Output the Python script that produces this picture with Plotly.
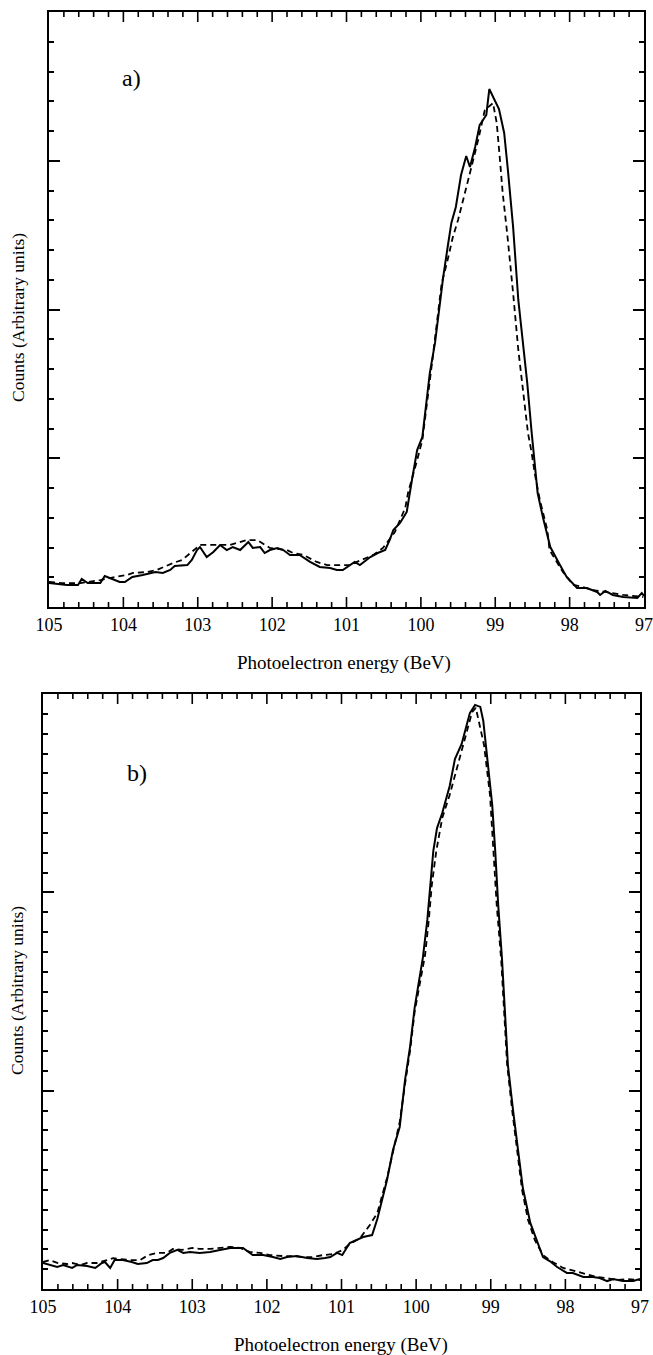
import plotly.graph_objects as go

W, H = 653, 1355

# ---------------- panel a) ----------------
a_solid_E = [105.00, 104.76, 104.61, 104.56, 104.48, 104.31, 104.25, 104.18, 104.05, 103.98,
             103.88, 103.74, 103.57, 103.47, 103.37, 103.31, 103.14, 103.08, 103.01, 102.97,
             102.88, 102.79, 102.70, 102.61, 102.53, 102.43, 102.32, 102.26, 102.16, 102.10,
             102.03, 101.93, 101.85, 101.76, 101.63, 101.49, 101.36, 101.22, 101.13, 101.05,
             100.89, 100.82, 100.68, 100.58, 100.48, 100.42, 100.37, 100.28, 100.19, 100.12,
             100.05, 99.98, 99.94, 99.88, 99.81, 99.77, 99.70, 99.64, 99.59, 99.53,
             99.46, 99.39, 99.34, 99.27, 99.21, 99.12, 99.08, 98.95, 98.88, 98.83,
             98.76, 98.69, 98.64, 98.57, 98.51, 98.47, 98.43, 98.36, 98.26, 98.13,
             98.04, 97.90, 97.77, 97.63, 97.59, 97.52, 97.42, 97.28, 97.09, 97.03, 97.00]
a_solid_I = [0.161, 0.148, 0.148, 0.188, 0.161, 0.161, 0.208, 0.195, 0.168, 0.168,
             0.202, 0.215, 0.235, 0.229, 0.249, 0.276, 0.282, 0.316, 0.383, 0.403,
             0.336, 0.370, 0.417, 0.383, 0.403, 0.383, 0.437, 0.397, 0.403, 0.363,
             0.383, 0.397, 0.383, 0.350, 0.350, 0.303, 0.269, 0.262, 0.249, 0.249,
             0.303, 0.282, 0.336, 0.363, 0.383, 0.450, 0.518, 0.565, 0.639, 0.854,
             1.055, 1.143, 1.324, 1.573, 1.775, 1.950, 2.218, 2.420, 2.582, 2.689,
             2.904, 3.032, 2.958, 3.092, 3.240, 3.308, 3.482, 3.348, 3.187, 2.938,
             2.555, 2.064, 1.842, 1.506, 1.170, 0.988, 0.766, 0.605, 0.403, 0.282,
             0.202, 0.128, 0.128, 0.101, 0.081, 0.108, 0.081, 0.067, 0.061, 0.094, 0.074]

a_dash_E = [105.00, 104.83, 104.58, 104.31, 104.11, 103.95, 103.87, 103.68, 103.55, 103.33,
            103.21, 103.08, 102.97, 102.74, 102.57, 102.34, 102.20, 102.03, 101.80, 101.72,
            101.58, 101.40, 101.26, 101.09, 100.95, 100.86, 100.64, 100.51, 100.35, 100.21,
            100.17, 100.05, 99.98, 99.85, 99.77, 99.72, 99.65, 99.61, 99.57, 99.50,
            99.43, 99.34, 99.23, 99.14, 99.03, 98.98, 98.94, 98.90, 98.84, 98.80,
            98.76, 98.69, 98.64, 98.60, 98.56, 98.51, 98.47, 98.40, 98.30, 98.27,
            98.09, 97.95, 97.82, 97.69, 97.55, 97.42, 97.28, 97.15, 97.01]
a_dash_I = [0.168, 0.161, 0.161, 0.181, 0.202, 0.215, 0.229, 0.235, 0.249, 0.296,
            0.316, 0.370, 0.417, 0.417, 0.417, 0.450, 0.450, 0.397, 0.383, 0.363,
            0.350, 0.303, 0.282, 0.282, 0.282, 0.303, 0.350, 0.397, 0.504, 0.666,
            0.773, 0.988, 1.123, 1.640, 1.997, 2.178, 2.313, 2.400, 2.487, 2.602,
            2.736, 2.918, 3.139, 3.341, 3.388, 3.254, 3.025, 2.783, 2.514, 2.333,
            2.111, 1.728, 1.506, 1.371, 1.170, 1.035, 0.901, 0.719, 0.518, 0.383,
            0.235, 0.148, 0.134, 0.114, 0.101, 0.094, 0.081, 0.074, 0.067]

# ---------------- panel b) ----------------
b_solid_E = [105.00, 104.81, 104.73, 104.61, 104.54, 104.41, 104.30, 104.21, 104.17, 104.10,
             104.04, 103.93, 103.81, 103.73, 103.61, 103.53, 103.46, 103.39, 103.30, 103.20,
             103.12, 103.03, 102.90, 102.76, 102.63, 102.49, 102.40, 102.32, 102.19, 102.05,
             101.92, 101.82, 101.73, 101.60, 101.46, 101.33, 101.22, 101.15, 101.06, 100.99,
             100.89, 100.79, 100.71, 100.59, 100.52, 100.39, 100.31, 100.22, 100.15, 100.08,
             100.02, 99.97, 99.91, 99.85, 99.81, 99.77, 99.72, 99.65, 99.55, 99.48,
             99.39, 99.28, 99.21, 99.14, 99.10, 99.05, 98.98, 98.94, 98.90, 98.85,
             98.81, 98.77, 98.70, 98.63, 98.57, 98.47, 98.38, 98.30, 98.21, 98.11,
             97.98, 97.90, 97.76, 97.63, 97.54, 97.44, 97.36, 97.23, 97.09, 97.00]
b_solid_I = [0.131, 0.111, 0.121, 0.106, 0.121, 0.116, 0.106, 0.131, 0.136, 0.106,
             0.146, 0.146, 0.136, 0.126, 0.131, 0.146, 0.146, 0.156, 0.182, 0.197,
             0.182, 0.187, 0.182, 0.187, 0.197, 0.207, 0.207, 0.207, 0.171, 0.171,
             0.161, 0.151, 0.161, 0.166, 0.156, 0.151, 0.156, 0.161, 0.182, 0.171,
             0.232, 0.247, 0.262, 0.272, 0.353, 0.550, 0.701, 0.817, 1.049, 1.225,
             1.417, 1.533, 1.669, 1.861, 2.037, 2.208, 2.324, 2.400, 2.536, 2.672,
             2.748, 2.904, 2.945, 2.935, 2.864, 2.672, 2.440, 2.208, 1.936, 1.669,
             1.376, 1.129, 0.897, 0.681, 0.509, 0.333, 0.237, 0.161, 0.141, 0.111,
             0.081, 0.081, 0.061, 0.061, 0.055, 0.040, 0.050, 0.040, 0.040, 0.050]

b_dash_E = [105.00, 104.91, 104.80, 104.68, 104.61, 104.50, 104.41, 104.28, 104.14, 104.06,
            103.97, 103.83, 103.70, 103.59, 103.47, 103.34, 103.26, 103.14, 103.00, 102.90,
            102.76, 102.63, 102.49, 102.36, 102.23, 102.09, 101.96, 101.78, 101.65, 101.52,
            101.38, 101.25, 101.11, 100.98, 100.89, 100.75, 100.62, 100.52, 100.39, 100.31,
            100.22, 100.15, 100.08, 100.02, 99.95, 99.88, 99.83, 99.79, 99.73, 99.65,
            99.55, 99.44, 99.35, 99.25, 99.20, 99.16, 99.09, 99.01, 98.96, 98.92,
            98.86, 98.82, 98.78, 98.71, 98.65, 98.58, 98.50, 98.41, 98.30, 98.17,
            98.03, 97.87, 97.74, 97.58, 97.44, 97.31, 97.17, 97.00]
b_dash_I = [0.136, 0.146, 0.131, 0.126, 0.131, 0.121, 0.131, 0.131, 0.146, 0.156,
            0.151, 0.146, 0.146, 0.171, 0.182, 0.182, 0.202, 0.197, 0.207, 0.202,
            0.202, 0.207, 0.212, 0.207, 0.187, 0.182, 0.171, 0.166, 0.166, 0.161,
            0.161, 0.171, 0.176, 0.197, 0.227, 0.257, 0.323, 0.383, 0.560, 0.691,
            0.842, 1.029, 1.205, 1.397, 1.533, 1.684, 1.861, 2.037, 2.208, 2.375,
            2.491, 2.642, 2.768, 2.909, 2.930, 2.859, 2.743, 2.491, 2.213, 1.936,
            1.659, 1.382, 1.129, 0.892, 0.701, 0.499, 0.348, 0.247, 0.171, 0.136,
            0.106, 0.091, 0.076, 0.061, 0.055, 0.045, 0.050, 0.045]

x_tick_vals = [105, 104, 103, 102, 101, 100, 99, 98, 97]
x_minor_step = 0.2
x_title = "Photoelectron energy (BeV)"
y_title = "Counts (Arbitrary units)"
panel_labels = ["a)", "b)"]

FONT = "Liberation Serif, Times New Roman, serif"
XRANGE = [x_tick_vals[0], x_tick_vals[-1]]

fig = go.Figure()
solid = dict(color="black", width=2)
dashed = dict(color="black", width=1.8, dash="6px,4px")

fig.add_trace(go.Scatter(x=a_dash_E, y=a_dash_I, mode="lines", line=dashed, xaxis="x", yaxis="y"))
fig.add_trace(go.Scatter(x=a_solid_E, y=a_solid_I, mode="lines", line=solid, xaxis="x", yaxis="y"))
fig.add_trace(go.Scatter(x=b_dash_E, y=b_dash_I, mode="lines", line=dashed, xaxis="x2", yaxis="y2"))
fig.add_trace(go.Scatter(x=b_solid_E, y=b_solid_I, mode="lines", line=solid, xaxis="x2", yaxis="y2"))


def px_x(p):
    return p / W


def px_y(p):
    return 1 - p / H


def xaxis(dom, anchor):
    return dict(
        domain=dom, anchor=anchor, range=XRANGE,
        tickmode="linear", tick0=x_tick_vals[-1], dtick=1, ticks="",
        showline=True, linewidth=2, linecolor="black", mirror=True,
        showgrid=False, zeroline=False, automargin=False,
        tickfont=dict(family=FONT, size=18, color="black"),
    )


def yaxis(dom, anchor, top, minor_dtick):
    return dict(
        domain=dom, anchor=anchor, range=[0, top],
        tickmode="linear", tick0=0, dtick=1,
        ticks="inside", ticklen=11, tickwidth=1.6, tickcolor="black",
        minor=dict(ticks="inside", ticklen=5, tickwidth=1.6, tickcolor="black", dtick=minor_dtick, showgrid=False),
        showline=True, linewidth=2, linecolor="black", mirror="allticks",
        showgrid=False, zeroline=False, showticklabels=False, automargin=False,
    )


fig.update_layout(
    width=W, height=H,
    margin=dict(l=0, r=0, t=0, b=0, autoexpand=False),
    paper_bgcolor="white", plot_bgcolor="white",
    showlegend=False,
    xaxis=xaxis([px_x(49), px_x(644)], "y"),
    yaxis=yaxis([px_y(607), px_y(12)], "x", 4, 0.2),
    xaxis2=xaxis([px_x(43), px_x(640)], "y2"),
    yaxis2=yaxis([px_y(1289), px_y(694)], "x2", 3, 0.1),
)

# inward energy tick marks on the bottom and top frame edges, placed on the
# energy axis scale (major every 1, minor every 0.2), lengths in pixels
major_inner = x_tick_vals[1:-1]
minor_vals = [round(t - k * x_minor_step, 1) for t in x_tick_vals[:-1] for k in range(1, 5)]
shapes = []
for xref, yref in (("x", "y domain"), ("x2", "y2 domain")):
    for vals, length in ((major_inner, 10), (minor_vals, 5)):
        for v in vals:
            for anchor, sign in ((0, 1), (1, -1)):
                shapes.append(dict(
                    type="line", xref=xref, yref=yref, x0=v, x1=v,
                    ysizemode="pixel", yanchor=anchor, y0=0, y1=sign * length,
                    line=dict(color="black", width=1.6), layer="above",
                ))
fig.update_layout(shapes=shapes)

ann_font = dict(family=FONT, size=19, color="black")
yt_font = dict(family=FONT, size=17.5, color="black")
lab_font = dict(family=FONT, size=24, color="black")
annotations = [
    dict(text=x_title, x=px_x(344), y=px_y(663), xref="paper", yref="paper",
         xanchor="center", yanchor="middle", showarrow=False, font=ann_font),
    dict(text=x_title, x=px_x(341), y=px_y(1345), xref="paper", yref="paper",
         xanchor="center", yanchor="middle", showarrow=False, font=ann_font),
    dict(text=y_title, x=px_x(18), y=px_y(318), xref="paper", yref="paper", textangle=-90,
         xanchor="center", yanchor="middle", showarrow=False, font=yt_font),
    dict(text=y_title, x=px_x(17), y=px_y(991), xref="paper", yref="paper", textangle=-90,
         xanchor="center", yanchor="middle", showarrow=False, font=yt_font),
    dict(text=panel_labels[0], x=px_x(131), y=px_y(78), xref="paper", yref="paper",
         xanchor="center", yanchor="middle", showarrow=False, font=lab_font),
    dict(text=panel_labels[1], x=px_x(137), y=px_y(773), xref="paper", yref="paper",
         xanchor="center", yanchor="middle", showarrow=False, font=lab_font),
]
fig.update_layout(annotations=annotations)

fig.write_html("out.html")
